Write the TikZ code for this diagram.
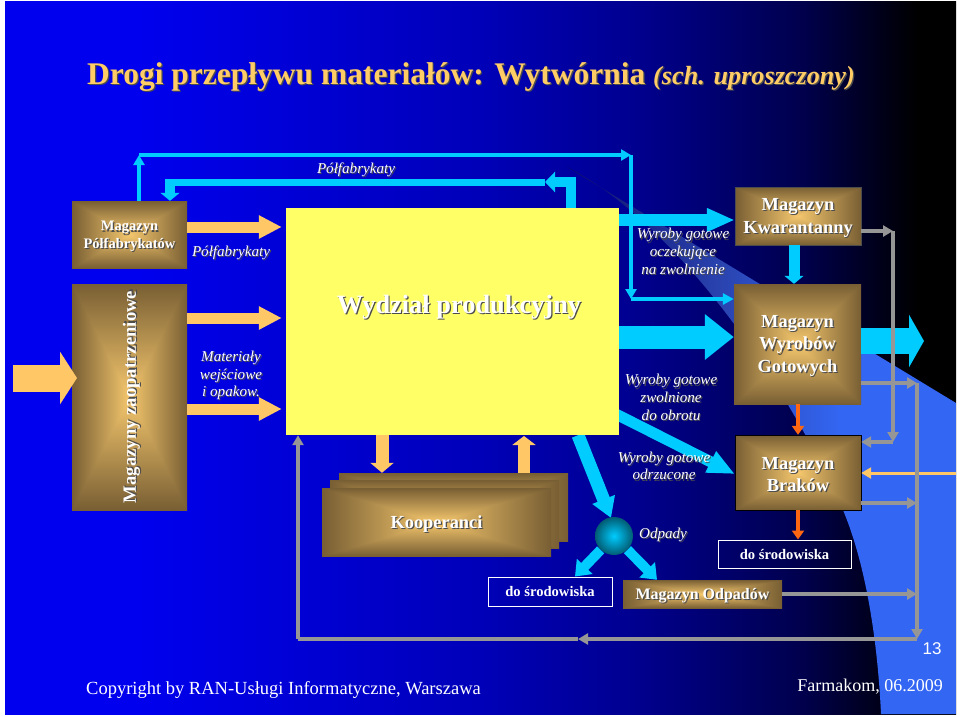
\documentclass[tikz,border=0pt]{standalone}
\usepackage{fontspec}
\setmainfont{Liberation Serif}
\newfontfamily\numfont{Liberation Sans}
\usetikzlibrary{arrows.meta}

\definecolor{slideblue}{HTML}{0000EE}
\definecolor{slideB}{HTML}{0000B8}
\definecolor{slideC}{HTML}{000090}
\definecolor{slideD}{HTML}{00004C}
\definecolor{beamA}{HTML}{0D0D6B}
\definecolor{beamB}{HTML}{2A44B0}
\definecolor{beamC}{HTML}{3366F2}
\definecolor{arrgold}{HTML}{FFC766}
\definecolor{arrcyan}{HTML}{00CCFF}
\definecolor{arrgrey}{HTML}{969696}
\definecolor{arrorange}{HTML}{FF6611}
\definecolor{prodyellow}{HTML}{FFFF66}
\definecolor{titlegold}{HTML}{FFCC66}

\pgfdeclarehorizontalshading{slidebg}{100bp}{color(0bp)=(slideblue); color(32bp)=(slideblue);
  color(50bp)=(slideB); color(58bp)=(slideC); color(67bp)=(slideD); color(73bp)=(black); color(100bp)=(black)}
\pgfdeclarehorizontalshading{beamfade}{100bp}{color(0bp)=(beamA); color(25bp)=(beamA);
  color(45bp)=(beamB); color(60bp)=(beamC); color(100bp)=(beamC)}
\pgfdeclarefunctionalshading{goldbox}{\pgfpoint{-50bp}{-50bp}}{\pgfpoint{50bp}{50bp}}{}{
  abs exch abs 2 copy gt {pop} {exch pop} ifelse
  25 div dup 1 gt {pop 1} if
  dup -0.49 mul 0.96 add exch dup -0.41 mul 0.78 add exch -0.23 mul 0.43 add
}

\pgfdeclarelayer{bg}
\pgfdeclarelayer{under}
\pgfsetlayers{bg,under,main}

\newcommand{\shtxt}[1]{\leavevmode\raisebox{-2.5pt}[\height][\depth]{\rlap{\raisebox{-1.2pt}{\kern1.2pt\textcolor{black!70}{#1}}}#1}}

\tikzset{
  magbox/.style={shading=goldbox,minimum width=#1,inner sep=0pt,text=white,align=center,
    font=\fontsize{18.4}{22.5}\selectfont\bfseries},
  outbox/.style={draw=white,line width=1pt,inner sep=0pt,text=white,
    font=\fontsize{14.6}{16}\selectfont\bfseries},
  lbl/.style={text=white,align=center,inner sep=0pt,font=\fontsize{15.1}{17.6}\selectfont\itshape},
  blockarr/.style n args={3}{line width=#1,-{Triangle[width=#2,length=#3]}},
  goldarr/.style={draw=arrgold,blockarr={11pt}{22pt}{23pt},shorten >=4pt},
  cyanline/.style={draw=arrcyan,line width=3.6pt},
  cyantip/.style={cyanline,-{Triangle[width=11pt,length=10pt]}},
  greyline/.style={draw=arrgrey,line width=3.4pt},
  greytip/.style={greyline,-{Triangle[width=11pt,length=10pt]}},
  orangetip/.style={draw=arrorange,line width=3.8pt,-{Triangle[width=12pt,length=9pt]}},
}

\begin{document}
\begin{tikzpicture}[x=1pt,y=-1pt]
  \useasboundingbox (0,0) rectangle (960,716);

  \begin{pgfonlayer}{bg}
    \shade[shading=slidebg] (5,1) rectangle (956,714);
    \shade[shading=beamfade] (567,167) -- (956,403) -- (956,714) -- (881,714)
      .. controls (878,650) and (868,570) .. (843,510)
      .. controls (790,390) and (680,225) .. (567,167) -- cycle;
  \end{pgfonlayer}

  % boxes
  \node[magbox=115pt,minimum height=67pt,font=\fontsize{14.5}{17.5}\selectfont\bfseries] (mpolf) at (129.5,234.5) {\shtxt{Magazyn}\\\shtxt{Półfabrykatów}};
  \node[magbox=115pt,minimum height=226pt,font=\fontsize{18.7}{22}\selectfont\bfseries] (mzaop) at (129.5,397)
    {\rotatebox{90}{\shtxt{Magazyny zaopatrzeniowe}}};
  \node[fill=prodyellow,minimum width=333pt,minimum height=227pt,inner sep=0pt] (prod) at (452.5,321.5) {};
  \node[magbox=126pt,minimum height=58pt,draw=black!70] (mkwar) at (798,216) {\shtxt{Magazyn}\\\shtxt{Kwarantanny}};
  \node[magbox=127pt,minimum height=120pt] (mwyr) at (797.5,344) {\shtxt{Magazyn}\\\shtxt{Wyrobów}\\\shtxt{Gotowych}};
  \node[magbox=126pt,minimum height=75pt,draw=black] (mbrak) at (798,472.5) {\shtxt{Magazyn}\\\shtxt{Braków}};
  \node[magbox=229pt,minimum height=68pt] (koopC) at (453.5,507) {};
  \node[magbox=229pt,minimum height=68pt] (koopB) at (444.5,514) {};
  \node[magbox=229pt,minimum height=68pt] (koopA) at (436.5,522) {\shtxt{Kooperanci}};
  \node[magbox=159pt,minimum height=28pt,font=\fontsize{16}{18}\selectfont\bfseries] (modp) at (702.5,594) {\shtxt{Magazyn Odpadów}};
  \node[outbox,minimum width=124pt,minimum height=29pt] (srodA) at (550,591.5) {do środowiska};
  \node[outbox,minimum width=133pt,minimum height=28pt] (srodB) at (784.5,554) {do środowiska};
  \node[circle,minimum size=38pt,inner sep=0pt,inner color=arrcyan,outer color=arrcyan!45!black] (odp) at (614,536) {};

  % free ends
  \coordinate (cyA) at (139,155);
  \coordinate (cyB) at (631,155);
  \coordinate (cyC) at (631,299);
  \coordinate (thA) at (571,182);
  \coordinate (thB) at (545,182);
  \coordinate (thC) at (170,182);
  \coordinate (grA) at (893,231);
  \coordinate (grB) at (893,442);
  \coordinate (grC) at (917,383);
  \coordinate (grD) at (917,639);
  \coordinate (grE) at (578,639);
  \coordinate (grF) at (298,639);
  \coordinate (wejscie) at (13,378);
  \coordinate (zwrot) at (956,473);
  \coordinate (wyjscie) at (924,341);
  \coordinate (brakin) at (600,406);

  % gold arrows
  \draw[goldarr] (mpolf.east |- 0,227) -- (prod.west |- 0,227);
  \draw[goldarr] (mzaop.east |- 0,318) -- (prod.west |- 0,318);
  \draw[goldarr] (mzaop.east |- 0,409) -- (prod.west |- 0,409);
  \draw[draw=arrgold,blockarr={27pt}{52pt}{17pt}] (wejscie) -- (77,378);
  \draw[draw=arrgold,blockarr={13pt}{23pt}{10pt}] (382,435) -- (koopC.north -| 382,0);
  \draw[draw=arrgold,blockarr={12pt}{23pt}{9pt}] (koopC.north -| 524,0) -- (524,436);
  \draw[draw=arrgold,line width=3pt,-{Triangle[width=11pt,length=10pt]}] (zwrot) -- (mbrak.east |- zwrot);

  % cyan arrows
  \draw[cyantip] (mpolf.north -| cyA) -- (cyA);
  \draw[cyantip] (cyA) -- (cyB);
  \draw[cyantip] (cyB) -- (cyC);
  \draw[cyanline,-{Triangle[width=11pt,length=11pt]}] (cyC) -- (mwyr.west |- cyC);
  \draw[draw=arrcyan,line width=10pt,-{Triangle[width=20pt,length=10pt]}] (prod.north -| thA) -- (thA) -- (thB);
  \draw[draw=arrcyan,line width=7pt] (thB) -- (166,182);
  \draw[draw=arrcyan,blockarr={10pt}{19pt}{8pt}] (170,178.5) -- (mpolf.north -| thC);
  \draw[draw=arrcyan,blockarr={12pt}{22pt}{28pt}] (prod.east |- 0,220) -- (mkwar.west |- 0,220);
  \draw[draw=arrcyan,blockarr={23pt}{44pt}{29pt}] (prod.east |- 0,337) -- (mwyr.west |- 0,337);
  \draw[draw=arrcyan,blockarr={11pt}{19pt}{8pt}] (mkwar.south -| 794,0) -- (mwyr.north -| 794,0);
  \draw[draw=arrcyan,blockarr={26pt}{52pt}{15pt}] (mwyr.east |- wyjscie) -- (wyjscie);
  \begin{pgfonlayer}{under}
    \draw[draw=arrcyan,blockarr={11pt}{22pt}{27pt}] (brakin) -- (mbrak.west |- 0,474);
    \draw[draw=arrcyan,blockarr={13pt}{23pt}{20pt}] (prod.south -| 578,0) -- (611,518);
    \draw[draw=arrcyan,blockarr={10pt}{21pt}{14pt}] (odp) -- (srodA.north -| 575,0);
    \draw[draw=arrcyan,blockarr={10pt}{21pt}{14pt}] (odp) -- (modp.north -| 657,0);
  \end{pgfonlayer}

  % grey arrows
  \draw[greytip] (mkwar.east |- grA) -- (grA);
  \draw[greytip] (grA) -- (grB);
  \draw[greytip] (grB) -- (mbrak.east |- grB);
  \draw[greytip] (mwyr.east |- grC) -- (grC);
  \draw[greytip] (grC) -- (grD);
  \draw[greytip] (grD) -- (grE);
  \draw[greyline] (grE) -- (grF);
  \draw[greytip] (grF) -- (prod.south -| grF);
  \draw[greytip] (mbrak.east |- 0,503) -- (917,503);
  \draw[greytip] (modp.east) -- (917,594);

  % orange arrows
  \draw[orangetip] (mwyr.south -| 798,0) -- (mbrak.north -| 798,0);
  \draw[orangetip] (mbrak.south -| 798,0) -- (srodB.north -| 798,0);

  % labels
  \node[lbl] (lpolfa) at (356,168) {\shtxt{Półfabrykaty}};
  \node[lbl] (lpolfb) at (231,251) {\shtxt{Półfabrykaty}};
  \node[lbl] (lmat) at (231,373.5) {\shtxt{Materiały}\\\shtxt{wejściowe}\\\shtxt{i opakow.}};
  \node[lbl] (loczek) at (683,249.5) {\shtxt{Wyroby gotowe}\\\shtxt{oczekujące}\\\shtxt{na zwolnienie}};
  \node[lbl] (lzwol) at (671,395.5) {\shtxt{Wyroby gotowe}\\\shtxt{zwolnione}\\\shtxt{do obrotu}};
  \node[lbl] (lodrz) at (664,464) {\shtxt{Wyroby gotowe}\\\shtxt{odrzucone}};
  \node[lbl] (lodp) at (663,533) {\shtxt{Odpady}};
  \node[text=white,inner sep=0pt,font=\fontsize{26.4}{30}\selectfont\bfseries] (lprod) at (459,305) {\shtxt{Wydział produkcyjny}};

  \node[anchor=base west,inner sep=0pt,text=titlegold,font=\fontsize{31.5}{36}\selectfont\bfseries] (title) at (87,81.5)
    {\shtxt{Drogi przepływu materiałów: Wytwórnia} \fontsize{26.2}{36}\selectfont\itshape\shtxt{(sch. uproszczony)}};
  \node[anchor=base west,inner sep=0pt,text=white,font=\fontsize{18.5}{22}\selectfont] (copyr) at (86,694) {Copyright by RAN-Usługi Informatyczne, Warszawa};
  \node[anchor=base east,inner sep=0pt,text=white,font=\fontsize{18}{22}\selectfont] (farm) at (943,691) {Farmakom, 06.2009};
  \node[inner sep=0pt,text=white,font=\numfont\fontsize{17}{20}\selectfont] (nr) at (932,649) {13};
\end{tikzpicture}
\end{document}
